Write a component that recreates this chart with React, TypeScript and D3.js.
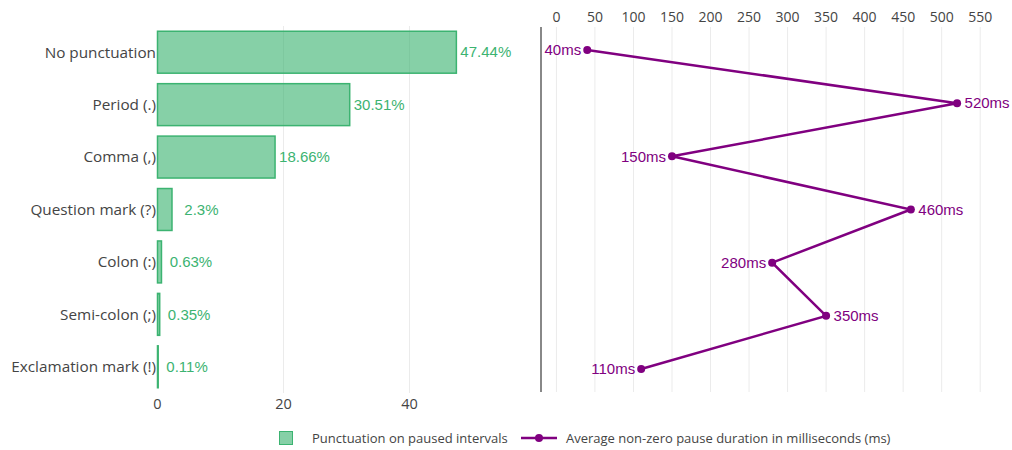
import React from "react";
import * as d3 from "d3";

const categories = [
  "No punctuation",
  "Period (.)",
  "Comma (,)",
  "Question mark (?)",
  "Colon (:)",
  "Semi-colon (;)",
  "Exclamation mark (!)",
];
const shareValues = [47.44, 30.51, 18.66, 2.3, 0.63, 0.35, 0.11];
const shareLabels = ["47.44%", "30.51%", "18.66%", "2.3%", "0.63%", "0.35%", "0.11%"];
const pauseValues = [40, 520, 150, 460, 280, 350, 110];
const leftTicks = [0, 20, 40];
const rightTicks = [0, 50, 100, 150, 200, 250, 300, 350, 400, 450, 500, 550];
const legendBar = "Punctuation on paused intervals";
const legendLine = "Average non-zero pause duration in milliseconds (ms)";

const W = 1012;
const H = 450;
const GREEN = "#3cb371";
const PURPLE = "#800080";
const TEXT = "#444";
const GRID = "#ebebeb";
const SANS = "'Open Sans', sans-serif";
const ARIAL = "'Liberation Sans', Arial, sans-serif";

export default function App() {
  const top = 26;
  const bottom = 393;
  const xL = d3.scaleLinear().domain([0, 60]).range([157.5, 535.5]);
  const yB = d3.scaleBand<string>().domain(categories).range([top, bottom]).paddingInner(0.2).paddingOuter(0.1);
  const xR = d3.scaleLinear().domain([-20, 577]).range([541, 1001]);
  const yP = d3.scalePoint<string>().domain(categories).range([50, 369]);

  const line = d3
    .line<number>()
    .x((d) => xR(d))
    .y((_, i) => yP(categories[i])!);

  return (
    <svg
      width={W}
      height={H}
      style={{ position: "absolute", left: 0, top: 0, background: "#fff" }}
    >
      {leftTicks
        .filter((t) => t > 0)
        .map((t) => (
          <line key={"lg" + t} x1={xL(t)} x2={xL(t)} y1={top} y2={bottom} stroke={GRID} strokeWidth={1} />
        ))}
      {rightTicks.map((t) => (
        <line key={"rg" + t} x1={xR(t)} x2={xR(t)} y1={27} y2={392} stroke={GRID} strokeWidth={1} />
      ))}

      {categories.map((c, i) => {
        const x0 = xL(0);
        const x1 = xL(shareValues[i]);
        const y = yB(c)!;
        return (
          <rect
            key={"b" + i}
            x={x0}
            y={y}
            width={Math.max(x1 - x0, 0.5)}
            height={yB.bandwidth()}
            fill={GREEN}
            fillOpacity={0.62}
            stroke={GREEN}
            strokeWidth={1.5}
          />
        );
      })}
      {categories.map((c, i) => (
        <text
          key={"bl" + i}
          x={xL(shareValues[i]) + 4}
          y={yB(c)! + yB.bandwidth() / 2}
          dy="0.35em"
          fill={GREEN}
          fontFamily={ARIAL}
          fontSize={15}
          style={{ whiteSpace: "pre" }}
        >
          {shareLabels[i].padStart(6, " ")}
        </text>
      ))}

      {categories.map((c) => (
        <text
          key={"cl" + c}
          x={156}
          y={yB(c)! + yB.bandwidth() / 2}
          dy="0.35em"
          textAnchor="end"
          fill={TEXT}
          fontFamily={SANS}
          fontSize={15.3}
        >
          {c}
        </text>
      ))}

      {leftTicks.map((t) => (
        <text
          key={"lt" + t}
          x={xL(t)}
          y={404}
          dy="0.35em"
          textAnchor="middle"
          fill={TEXT}
          fontFamily={SANS}
          fontSize={14.5}
        >
          {t}
        </text>
      ))}

      <line x1={541} x2={541} y1={27} y2={392} stroke="#888" strokeWidth={2} />

      {rightTicks.map((t) => (
        <text
          key={"rt" + t}
          x={xR(t)}
          y={17}
          dy="0.35em"
          textAnchor="middle"
          fill={TEXT}
          fontFamily={SANS}
          fontSize={14}
        >
          {t}
        </text>
      ))}

      <path d={line(pauseValues) || ""} fill="none" stroke={PURPLE} strokeWidth={2.5} />
      {pauseValues.map((v, i) => (
        <circle key={"p" + i} cx={xR(v)} cy={yP(categories[i])!} r={4} fill={PURPLE} />
      ))}
      {pauseValues.map((v, i) => {
        const right = i % 2 === 1;
        return (
          <text
            key={"pl" + i}
            x={xR(v) + (right ? 7.5 : -6)}
            y={yP(categories[i])!}
            dy="0.35em"
            textAnchor={right ? "start" : "end"}
            fill={PURPLE}
            fontFamily={ARIAL}
            fontSize={15}
          >
            {v + "ms"}
          </text>
        );
      })}

      <rect x={279.5} y={431.5} width={13} height={13} fill={GREEN} fillOpacity={0.62} stroke={GREEN} strokeWidth={1} />
      <text x={312} y={438} dy="0.35em" fill={TEXT} fontFamily={SANS} fontSize={13}>
        {legendBar}
      </text>
      <line x1={521} x2={557} y1={438} y2={438} stroke={PURPLE} strokeWidth={2.5} />
      <circle cx={539} cy={438} r={4} fill={PURPLE} />
      <text x={566} y={438} dy="0.35em" fill={TEXT} fontFamily={SANS} fontSize={13}>
        {legendLine}
      </text>
    </svg>
  );
}
